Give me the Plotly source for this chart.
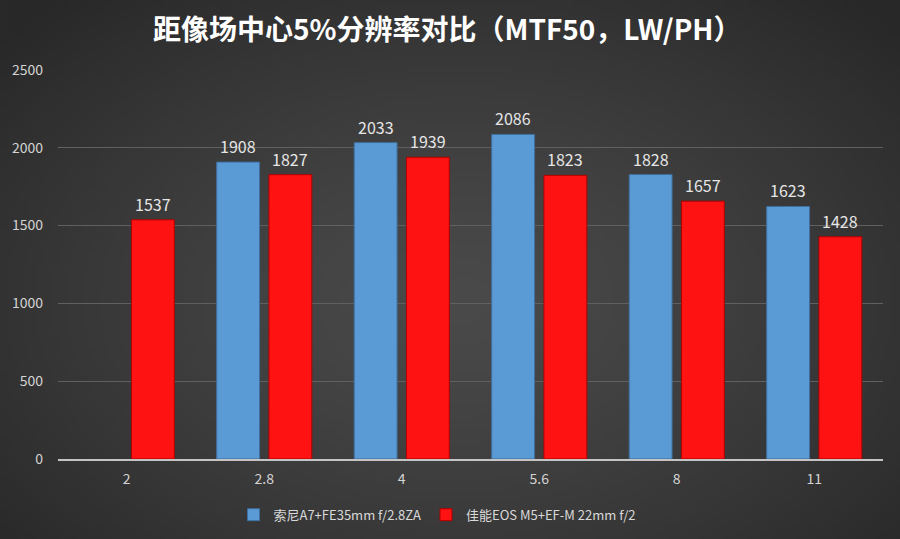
import base64
import struct
import zlib

import numpy as np
import plotly.graph_objects as go

categories = ["2", "2.8", "4", "5.6", "8", "11"]
sony_values = [None, 1908, 2033, 2086, 1828, 1623]
canon_values = [1537, 1827, 1939, 1823, 1657, 1428]
series_names = ["索尼A7+FE35mm f/2.8ZA", "佳能EOS M5+EF-M 22mm f/2"]
y_ticks = [0, 500, 1000, 1500, 2000, 2500]
title_text = "距像场中心5%分辨率对比（MTF50，LW/PH）"

font_family = "Noto Sans CJK SC, Noto Sans, sans-serif"
label_color = "#e6e6e6"
tick_color = "#d4d4d4"


def gradient_png(w=180, h=108):
    yy, xx = np.mgrid[0:h, 0:w]
    dx = (xx - w * 0.5) / (w * 0.5)
    dy = (yy - h * 0.55) / (h * 0.55)
    r = np.clip(np.sqrt(dx ** 2 + dy ** 2) / 1.35, 0, 1)
    v = (74 - (74 - 40) * r ** 1.3).astype(np.uint8)
    raw = b"".join(b"\x00" + bytes(np.stack([row, row, row], axis=1).flatten()) for row in v)

    def chunk(tag, data):
        c = tag + data
        return struct.pack(">I", len(data)) + c + struct.pack(">I", zlib.crc32(c) & 0xffffffff)

    png = b"\x89PNG\r\n\x1a\n" + chunk(b"IHDR", struct.pack(">IIBBBBB", w, h, 8, 2, 0, 0, 0))
    png += chunk(b"IDAT", zlib.compress(raw, 9)) + chunk(b"IEND", b"")
    return "data:image/png;base64," + base64.b64encode(png).decode()


fig = go.Figure()
fig.add_trace(go.Bar(
    x=categories, y=sony_values, name=series_names[0],
    marker=dict(color="#5b9bd5", line=dict(color="#3f6f9f", width=1)),
))
fig.add_trace(go.Bar(
    x=categories, y=canon_values, name=series_names[1],
    marker=dict(color="#ff1212", line=dict(color="#b00000", width=1)),
))

# data labels placed above the bars via annotations (offset like the reference)
slot = (1 - 0.24) / 2
for vals, off in ((sony_values, -slot / 2), (canon_values, slot / 2)):
    for i, v in enumerate(vals):
        if v is None:
            continue
        fig.add_annotation(
            x=i + off, y=v, xref="x", yref="y", text=str(v), showarrow=False,
            yanchor="bottom", yshift=2,
            font=dict(color=label_color, size=16, family=font_family),
        )

fig.update_layout(
    width=900, height=539,
    paper_bgcolor="#2e2e2e", plot_bgcolor="rgba(0,0,0,0)",
    margin=dict(l=55, r=17, t=70, b=78),
    barmode="group", bargap=0.24, bargroupgap=0.18,
    title=dict(text="<b>" + title_text + "</b>", x=0.497, xanchor="center",
               y=0.944, yanchor="middle",
               font=dict(size=28, color="white", family=font_family)),
    legend=dict(orientation="h", x=0.46, xanchor="center",
                yref="container", y=0.045, yanchor="middle",
                font=dict(size=13, color="#d9d9d9", family=font_family),
                bgcolor="rgba(0,0,0,0)", traceorder="normal"),
    font=dict(family=font_family),
    images=[dict(source=gradient_png(), xref="paper", yref="paper", x=-0.07, y=1.185,
                 sizex=1.1, sizey=1.4, sizing="stretch", layer="below",
                 xanchor="left", yanchor="top")],
)
fig.update_xaxes(
    type="category", showgrid=False, showline=True, linecolor="#c4c4c4", linewidth=2,
    tickfont=dict(size=14, color=tick_color), ticks="", ticklabelstandoff=6,
)
fig.update_yaxes(
    range=[0, 2500], tickvals=y_ticks, showgrid=True, gridcolor="#606060", gridwidth=1,
    zeroline=False, showline=False,
    tickfont=dict(size=14, color=tick_color), ticklabelstandoff=14,
)

fig.write_html("out.html", config={"displayModeBar": False},
               post_script="document.body.style.margin='0';document.body.style.overflow='hidden';")
